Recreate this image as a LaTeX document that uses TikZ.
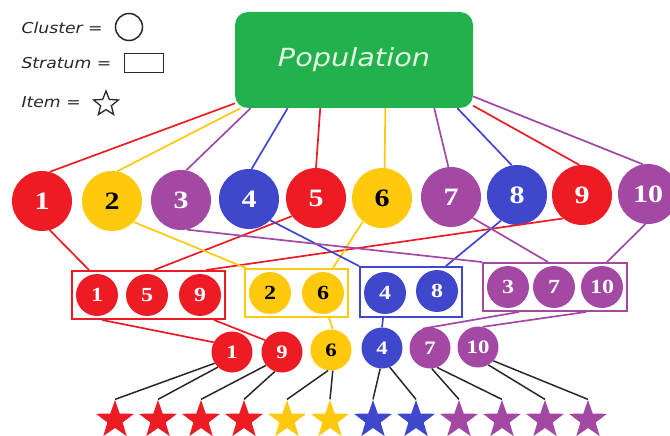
\documentclass[tikz,border=0pt]{standalone}
\usepackage{fontspec}
\usepackage{tikz}
\usetikzlibrary{shapes.geometric, fit}
\newfontfamily\numfont[FakeStretch=1.2]{Liberation Serif}
\newfontfamily\handfont[FakeStretch=1.15]{DejaVu Sans}
\definecolor{pred}{RGB}{237,28,36}
\definecolor{pyellow}{RGB}{255,201,14}
\definecolor{ppurple}{RGB}{163,73,164}
\definecolor{pblue}{RGB}{63,72,204}
\definecolor{pgreen}{RGB}{34,177,76}
\definecolor{pale}{RGB}{226,248,226}
\definecolor{ink}{RGB}{40,40,40}

\begin{document}
\begin{tikzpicture}
    [x=1pt, y=-1pt,
      pop/.style={rectangle, rounded corners=13pt, fill=pgreen, text=pale,
        minimum width=238pt, minimum height=96pt,
        font=\handfont\itshape\fontsize{25}{25}\selectfont},
      legend/.style={anchor=west, text=ink, font=\handfont\itshape\fontsize{15}{15}\selectfont},
      clus/.style={circle, inner sep=0pt, minimum size=60pt, text=white,
        font=\numfont\bfseries\fontsize{25}{25}\selectfont},
      memb/.style={clus, minimum size=42pt, font=\numfont\bfseries\fontsize{20}{20}\selectfont},
      pick/.style={clus, minimum size=41pt, font=\numfont\bfseries\fontsize{19}{19}\selectfont},
      stratum/.style={draw, line width=1.5pt, inner xsep=4pt, inner ysep=3pt},
      item/.style={star, star points=5, star point ratio=2.5, inner sep=0pt, minimum size=40pt},
      link/.style={line width=1.7pt},
      twig/.style={line width=1.5pt, draw=ink}]
    \useasboundingbox (0,0) rectangle (670,436);

    \node[legend] (lclus) at (18,28) {Cluster =};
    \node[circle, draw=ink, line width=1.5pt, minimum size=27pt, inner sep=0pt] (lcirc) at (129,27) {};
    \node[legend] (lstrat) at (18,63) {Stratum =};
    \node[draw=ink, line width=1.5pt, minimum width=39pt, minimum height=19pt, inner sep=0pt] (lrect) at (144,63) {};
    \node[legend] (litem) at (18,102) {Item =};
    \node[star, star points=5, star point ratio=2.3, draw=ink, line width=1.3pt,
      minimum size=26pt, inner sep=0pt] (lstar) at (106,104) {};

    \node[pop] (pop) at (354,60) {Population};

    \node[clus, fill=pred] (c1) at (42,201) {1};
    \node[clus, fill=pyellow, text=black] (c2) at (112,201) {2};
    \node[clus, fill=ppurple] (c3) at (181,200) {3};
    \node[clus, fill=pblue] (c4) at (249,199) {4};
    \node[clus, fill=pred] (c5) at (316,198) {5};
    \node[clus, fill=pyellow, text=black] (c6) at (382,198) {6};
    \node[clus, fill=ppurple] (c7) at (451,197) {7};
    \node[clus, fill=pblue] (c8) at (517,195) {8};
    \node[clus, fill=pred] (c9) at (582,195) {9};
    \node[clus, fill=ppurple] (c10) at (648,194) {10};

    \node[memb, fill=pred] (m1) at (97,295) {1};
    \node[memb, fill=pred] (m5) at (147,295) {5};
    \node[memb, fill=pred] (m9) at (200,295) {9};
    \node[memb, fill=pyellow, text=black] (m2) at (270,293) {2};
    \node[memb, fill=pyellow, text=black] (m6) at (323,293) {6};
    \node[memb, fill=pblue] (m4) at (385,293) {4};
    \node[memb, fill=pblue] (m8) at (437,291) {8};
    \node[memb, fill=ppurple] (m3) at (508,287) {3};
    \node[memb, fill=ppurple] (m7) at (554,287) {7};
    \node[memb, fill=ppurple] (m10) at (602,287) {10};

    \node[stratum, draw=pred, fit=(m1)(m9)] (sred) {};
    \node[stratum, draw=pyellow, fit=(m2)(m6)] (syel) {};
    \node[stratum, draw=pblue, fit=(m4)(m8)] (sblu) {};
    \node[stratum, draw=ppurple, fit=(m3)(m10)] (spur) {};

    \node[pick, fill=pred] (p1) at (232,352) {1};
    \node[pick, fill=pred] (p9) at (282,352) {9};
    \node[pick, fill=pyellow, text=black] (p6) at (331,350) {6};
    \node[pick, fill=pblue] (p4) at (382,348) {4};
    \node[pick, fill=ppurple] (p7) at (430,348) {7};
    \node[pick, fill=ppurple] (p10) at (478,347) {10};

    \node[item, fill=pred] (t1) at (115,420) {};
    \node[item, fill=pred] (t2) at (158,420) {};
    \node[item, fill=pred] (t3) at (201,420) {};
    \node[item, fill=pred] (t4) at (244,420) {};
    \node[item, fill=pyellow] (t5) at (287,420) {};
    \node[item, fill=pyellow] (t6) at (330,420) {};
    \node[item, fill=pblue] (t7) at (373,420) {};
    \node[item, fill=pblue] (t8) at (416,420) {};
    \node[item, fill=ppurple] (t9) at (459,420) {};
    \node[item, fill=ppurple] (t10) at (502,420) {};
    \node[item, fill=ppurple] (t11) at (545,420) {};
    \node[item, fill=ppurple] (t12) at (588,420) {};

    \draw[link, pred] (pop.200) -- (c1.75);
    \draw[link, pyellow] (pop.203) -- (c2.80);
    \draw[link, ppurple] (pop.205) -- (c3.80);
    \draw[link, pblue] (pop.216) -- (c4.85);
    \draw[link, pred] (pop.235) -- (c5.90);
    \draw[link, pyellow] (pop.303) -- (c6.85);
    \draw[link, ppurple] (pop.329) -- (c7.95);
    \draw[link, pblue] (pop.335) -- (c8.100);
    \draw[link, pred] (pop.339) -- (c9.95);
    \draw[link, ppurple] (pop.343) -- (c10.100);

    \draw[link, pred] (c1.285) -- ([xshift=18pt]sred.north west);
    \draw[link, pred] (c5.217) -- ([xshift=83pt]sred.north west);
    \draw[link, pred] (c9.231) -- ([xshift=-20pt]sred.north east);
    \draw[link, pyellow] (c2.316) -- ([xshift=2pt]syel.north west);
    \draw[link, pyellow] (c6.231) -- ([xshift=-16pt]syel.north east);
    \draw[link, pblue] (c4.315) -- (sblu.north west);
    \draw[link, pblue] (c8.238) -- ([xshift=-17pt]sblu.north east);
    \draw[link, ppurple] (c3.281) -- (spur.north west);
    \draw[link, ppurple] (c7.316) -- ([xshift=66pt]spur.north west);
    \draw[link, ppurple] (c10.265) -- ([xshift=-21pt]spur.north east);

    \draw[link, pred] ([xshift=31pt]sred.south west) -- (p1.152);
    \draw[link, pred] ([xshift=-12pt]sred.south east) -- (p9.145);
    \draw[link, pyellow] ([xshift=-20pt]syel.south east) -- (p6.85);
    \draw[link, pblue] ([xshift=24pt]sblu.south west) -- (p4.north);
    \draw[link, ppurple] ([xshift=37pt]spur.south west) -- (p7.111);
    \draw[link, ppurple] ([xshift=-42pt]spur.south east) -- (p10.77);

    \draw[twig] (p1.213) -- (t1.north);
    \draw[twig] (p1.227) -- (t2.north);
    \draw[twig] (p9.220) -- (t3.north);
    \draw[twig] (p9.250) -- (t4.north);
    \draw[twig] (p6.262) -- (t5.north);
    \draw[twig] (p6.275) -- (t6.north);
    \draw[twig] (p4.265) -- (t7.north);
    \draw[twig] (p4.292) -- (t8.north);
    \draw[twig] (p7.275) -- (t9.north);
    \draw[twig] (p7.290) -- (t10.north);
    \draw[twig] (p10.300) -- (t11.north);
    \draw[twig] (p10.318) -- (t12.north);
\end{tikzpicture}
\end{document}
